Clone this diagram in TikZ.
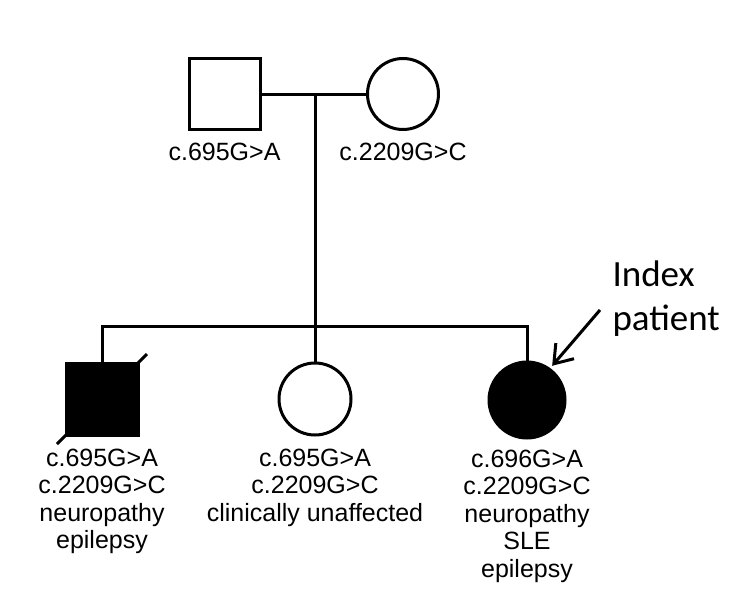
\documentclass[tikz,border=0pt]{standalone}
\usepackage{fontspec}
\setmainfont{Liberation Sans}
\newfontfamily\calibrifont{Carlito}
\usetikzlibrary{positioning, arrows.meta}

\begin{document}
\begin{tikzpicture}[x=1pt, y=-1pt, line width=3pt,
  male/.style={draw, rectangle, minimum size=71pt, inner sep=0pt},
  female/.style={draw, circle, minimum size=71pt, inner sep=0pt},
  lab/.style={font=\fontsize{25}{27.5}\selectfont, align=center, inner sep=0pt}]
  \useasboundingbox (0,0) rectangle (750,608);
  % parents
  \node[male] (F) at (224.5,94) {};
  \node[female] (M) at (403,94) {};
  \coordinate (mid) at (315,94);
  \draw (F.east) -- (M.west);
  \node[lab, below=11pt of F] (Flab) {c.695G>A};
  \node[lab, below=11pt of M] (Mlab) {c.2209G>C};
  % children
  \coordinate (sib) at (315,326);
  \node[male, fill=black, minimum size=72pt] (C1) at (102,399) {};
  \node[female, minimum size=72pt] (C2) at (315,399) {};
  \node[female, fill=black, minimum size=76pt] (C3) at (527,400) {};
  \draw (mid) -- (C2.north);
  \draw (C1.north) -- (C1.north |- sib) -- (C3.north |- sib) -- (C3.north);
  \draw ([shift={(-45,45)}]C1.center) -- ([shift={(45,-45)}]C1.center);
  \node[lab, below=11pt of C1] (C1lab) {c.695G>A\\c.2209G>C\\neuropathy\\epilepsy};
  \node[lab, below=11pt of C2] (C2lab) {c.695G>A\\c.2209G>C\\clinically unaffected};
  \node[lab, below=9pt of C3] (C3lab) {c.696G>A\\c.2209G>C\\neuropathy\\SLE\\epilepsy};
  % proband
  \node[font=\calibrifont\fontsize{37}{44}\selectfont, align=left, anchor=north west, inner sep=0pt] (idx) at (611,259) {Index\\patient};
  \coordinate (arrT) at (600,310);
  \draw[-{Straight Barb[length=17pt, width=24pt]}, shorten >=3pt] (arrT) -- (C3.54);
\end{tikzpicture}
\end{document}
